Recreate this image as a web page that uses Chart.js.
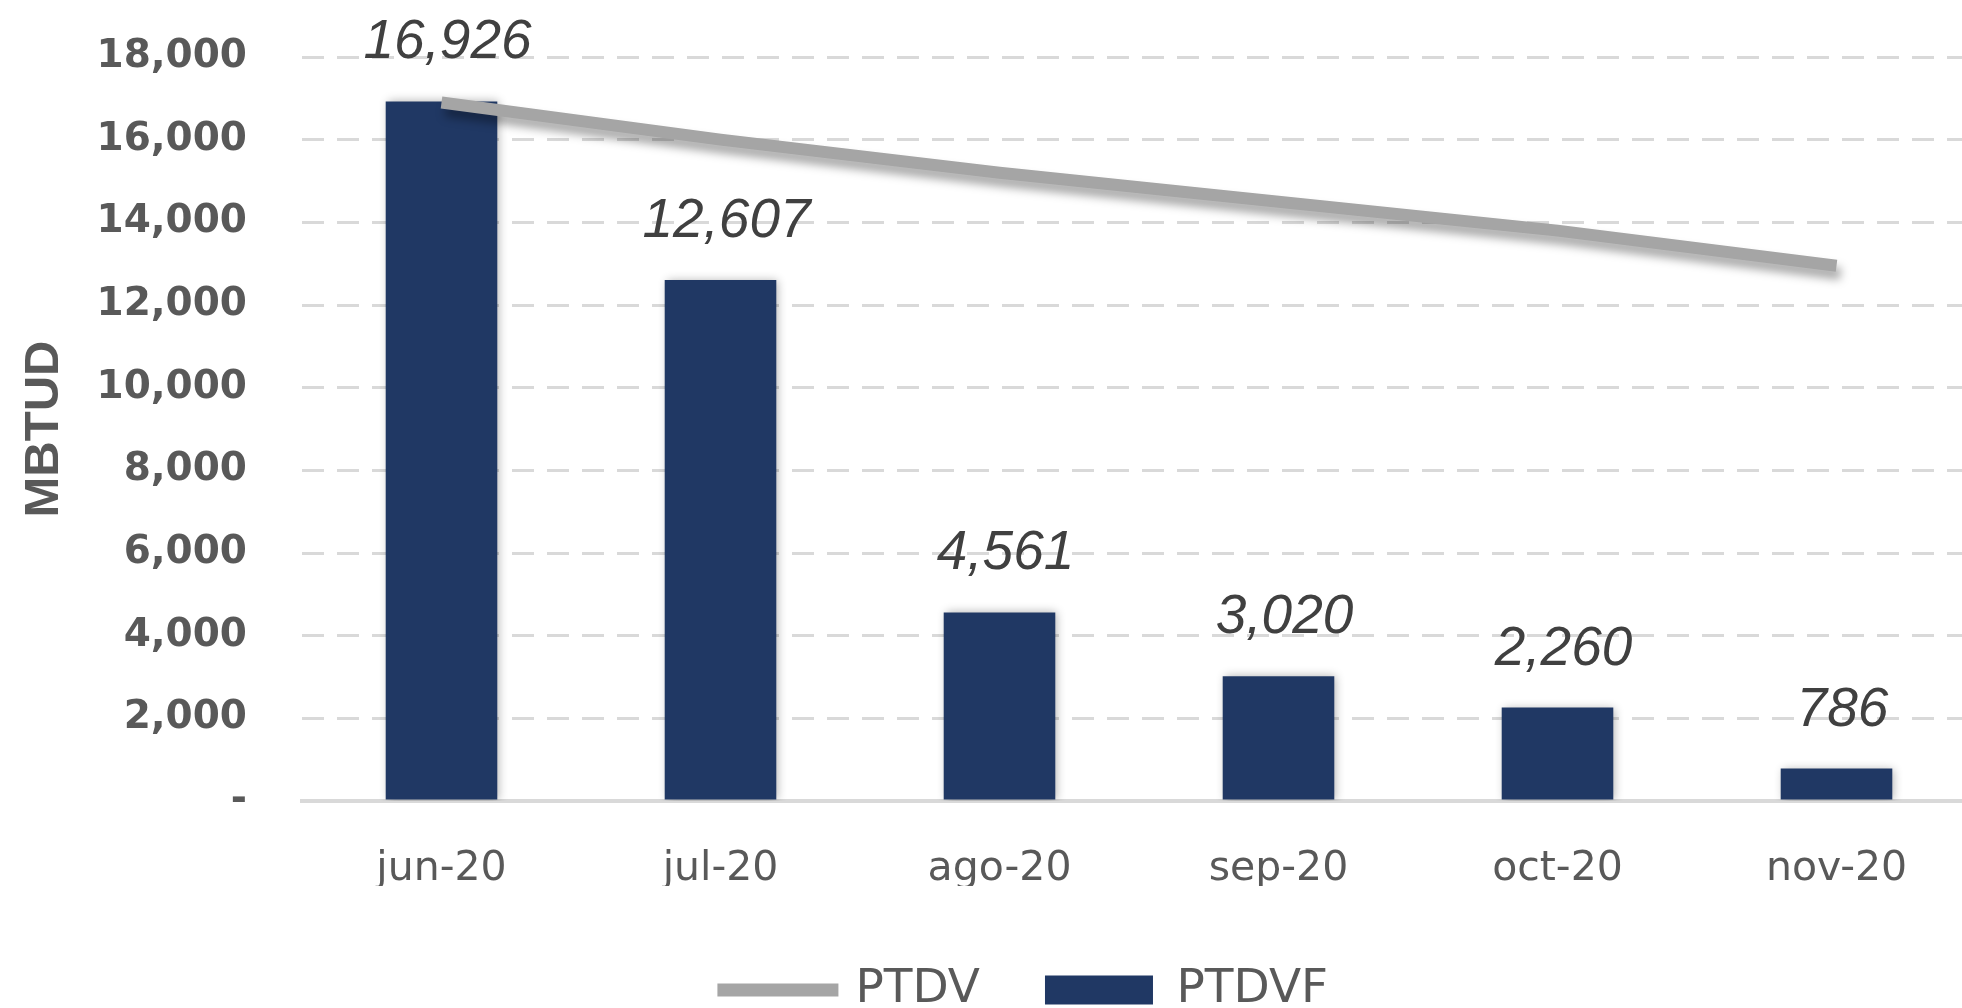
<!DOCTYPE html>
<html>
<head>
<meta charset="utf-8">
<script src="https://cdn.jsdelivr.net/npm/chart.js@4.4.1/dist/chart.umd.min.js"></script>
<style>
  html, body { margin: 0; padding: 0; background: #fff; overflow: hidden; }
  #wrap { width: 1976px; height: 1008px; }
</style>
</head>
<body>
<div id="wrap"><canvas id="gasChart" width="1976" height="1008"></canvas></div>
<script>
// data
const months = ['jun-20', 'jul-20', 'ago-20', 'sep-20', 'oct-20', 'nov-20'];
const ptdvValues = [16900, 16000, 15200, 14500, 13800, 12950];
const ptdvfValues = [16926, 12607, 4561, 3020, 2260, 786];
const yMax = 18000;
const yStep = 2000;

const navy = '#203864';
const lineGray = '#a5a5a5';
const textGray = '#595959';

Chart.defaults.font.family = 'DejaVu Sans';

// soft shadow under bars and line, like the Excel original
const softShadow = {
  id: 'softShadow',
  beforeDatasetDraw(chart, args) {
    const ctx = chart.ctx;
    ctx.save();
    if (args.meta.type === 'line') {
      ctx.shadowColor = 'rgba(0,0,0,0.35)';
      ctx.shadowBlur = 10;
      ctx.shadowOffsetX = 4;
      ctx.shadowOffsetY = 8;
    } else {
      ctx.shadowColor = 'rgba(0,0,0,0.3)';
      ctx.shadowBlur = 9;
      ctx.shadowOffsetX = 2;
      ctx.shadowOffsetY = 0;
    }
  },
  afterDatasetDraw(chart) {
    chart.ctx.restore();
  }
};

// value labels above the bars
const valueLabels = {
  id: 'valueLabels',
  afterDatasetsDraw(chart) {
    const meta = chart.getDatasetMeta(1);
    const ctx = chart.ctx;
    ctx.save();
    ctx.font = 'italic 55px "Liberation Sans"';
    ctx.fillStyle = '#404040';
    ctx.textAlign = 'center';
    ctx.textBaseline = 'alphabetic';
    meta.data.forEach((bar, i) => {
      ctx.fillText(ptdvfValues[i].toLocaleString('en-US'), bar.x + 6, bar.y - 43);
    });
    ctx.restore();
  }
};

// move the legend to where the original sits
const legendNudge = {
  id: 'legendNudge',
  afterLayout(chart) {
    const lg = chart.legend;
    if (!lg) return;
    const dx = 38;
    const dy = 990 - (lg.top + lg.options.labels.padding + 47 / 2);
    lg.left += dx; lg.right += dx;
    lg.top += dy; lg.bottom += dy;
  }
};

const ctx = document.getElementById('gasChart').getContext('2d');
const gasChart = new Chart(ctx, {
  type: 'bar',
  data: {
    labels: months,
    datasets: [{
      type: 'line',
      label: 'PTDV',
      data: ptdvValues,
      borderColor: lineGray,
      backgroundColor: lineGray,
      borderWidth: 12,
      borderCapStyle: 'butt',
      pointRadius: 0,
      tension: 0,
      order: 0
    }, {
      type: 'bar',
      label: 'PTDVF',
      data: ptdvfValues,
      backgroundColor: navy,
      categoryPercentage: 1,
      barPercentage: 0.4,
      order: 1
    }]
  },
  options: {
    responsive: false,
    devicePixelRatio: 1,
    animation: false,
    layout: { padding: { top: 57, right: 0, left: 0, bottom: 0 } },
    plugins: {
      tooltip: { enabled: false },
      legend: {
        position: 'bottom',
        labels: {
          usePointStyle: true,
          pointStyleWidth: 108,
          boxHeight: 29,
          padding: 65,
          color: textGray,
          font: { size: 47 },
          generateLabels(chart) {
            return chart.data.datasets.map((ds, i) => ({
              text: ds.label,
              datasetIndex: i,
              pointStyle: ds.type === 'line' ? 'line' : 'rect',
              fillStyle: ds.type === 'line' ? lineGray : navy,
              strokeStyle: ds.type === 'line' ? lineGray : navy,
              lineWidth: ds.type === 'line' ? 13 : 0,
              lineCap: 'square',
              fontColor: textGray,
              hidden: false
            }));
          }
        }
      }
    },
    scales: {
      x: {
        grid: { display: false },
        border: { display: true, color: '#d9d9d9', width: 4 },
        ticks: {
          color: textGray,
          font: { size: 41 },
          padding: 36,
          maxRotation: 0,
          autoSkip: false
        },
        afterFit(scale) {
          scale.height = 1008 - 801 - scale.chart.legend.height;
        }
      },
      y: {
        min: 0,
        max: yMax,
        grid: {
          color: '#d9d9d9',
          lineWidth: 3,
          drawTicks: true,
          tickLength: 55,
          tickColor: 'rgba(0,0,0,0)'
        },
        border: { display: false, dash: [22, 13] },
        ticks: {
          stepSize: yStep,
          color: textGray,
          padding: 0,
          font: { size: 39, weight: 'bold' },
          callback: v => v === 0 ? '-' : v.toLocaleString('en-US')
        },
        title: {
          display: true,
          text: 'MBTUD',
          color: textGray,
          font: { family: 'Liberation Sans', size: 49, weight: 'bold' },
          padding: { top: 15, bottom: 0 }
        },
        afterFit(scale) {
          scale.width = 302;
        }
      }
    }
  },
  plugins: [softShadow, valueLabels, legendNudge]
});
</script>
</body>
</html>
